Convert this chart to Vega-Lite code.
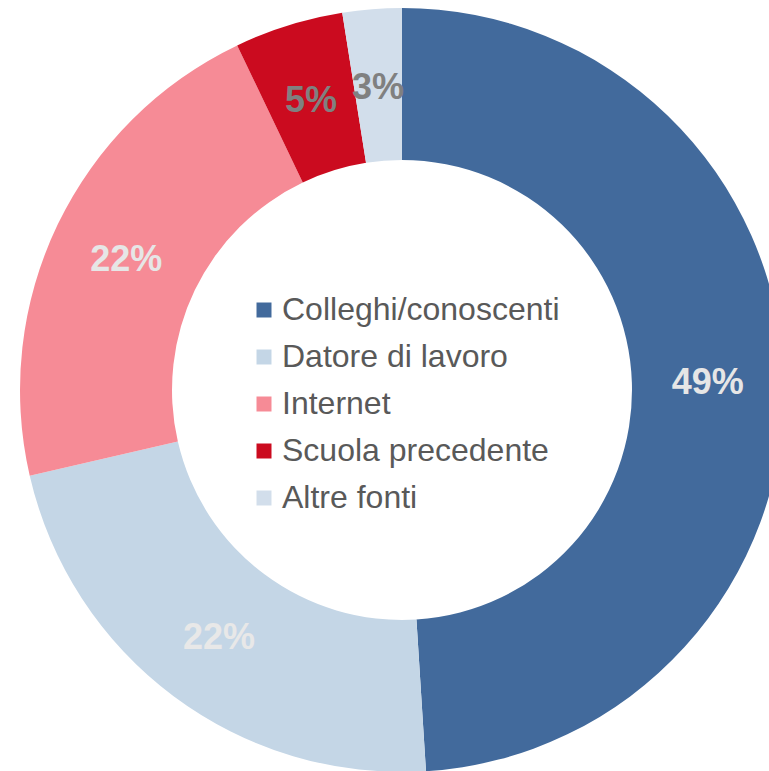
{
  "$schema": "https://vega.github.io/schema/vega-lite/v6.json",
  "width": 804,
  "height": 780,
  "autosize": {"type": "none"},
  "padding": 0,
  "background": "white",
  "config": {"view": {"stroke": null}},
  "data": {
    "values": [
      {"source": "Colleghi/conoscenti", "value": 49.0, "label": "49%", "ord": 1},
      {"source": "Datore di lavoro", "value": 22.4, "label": "22%", "ord": 2},
      {"source": "Internet", "value": 21.5, "label": "22%", "ord": 3},
      {"source": "Scuola precedente", "value": 4.6, "label": "5%", "ord": 4},
      {"source": "Altre fonti", "value": 2.5, "label": "3%", "ord": 5}
    ]
  },
  "encoding": {
    "theta": {"field": "value", "type": "quantitative", "stack": true},
    "order": {"field": "ord", "type": "quantitative"}
  },
  "layer": [
    {
      "mark": {"type": "arc", "outerRadius": 382, "innerRadius": 230},
      "encoding": {
        "color": {
          "field": "source",
          "type": "nominal",
          "scale": {
            "domain": ["Colleghi/conoscenti", "Datore di lavoro", "Internet", "Scuola precedente", "Altre fonti"],
            "range": ["#426A9C", "#C4D6E6", "#F68B96", "#CB0B1F", "#D2DEEB"]
          },
          "legend": {
            "title": null,
            "orient": "none",
            "legendX": 248,
            "legendY": 294,
            "padding": 0,
            "symbolType": "square",
            "symbolSize": 225,
            "symbolStrokeWidth": 0,
            "labelFont": "Liberation Sans",
            "labelFontSize": 32,
            "labelColor": "#595959",
            "labelOffset": 2,
            "labelLimit": 400,
            "rowPadding": 15
          }
        }
      }
    },
    {
      "mark": {"type": "text", "radius": 306, "font": "Liberation Sans", "fontWeight": "bold", "fontSize": 36, "align": "center", "baseline": "middle", "dy": 3},
      "encoding": {
        "text": {"field": "label", "type": "nominal"},
        "color": {
          "field": "ord",
          "type": "ordinal",
          "scale": {"domain": [1, 2, 3, 4, 5], "range": ["#E6E6E6", "#E8E8E8", "#E6E6E6", "#808080", "#808080"]},
          "legend": null
        }
      }
    }
  ],
  "resolve": {"scale": {"color": "independent"}}
}
